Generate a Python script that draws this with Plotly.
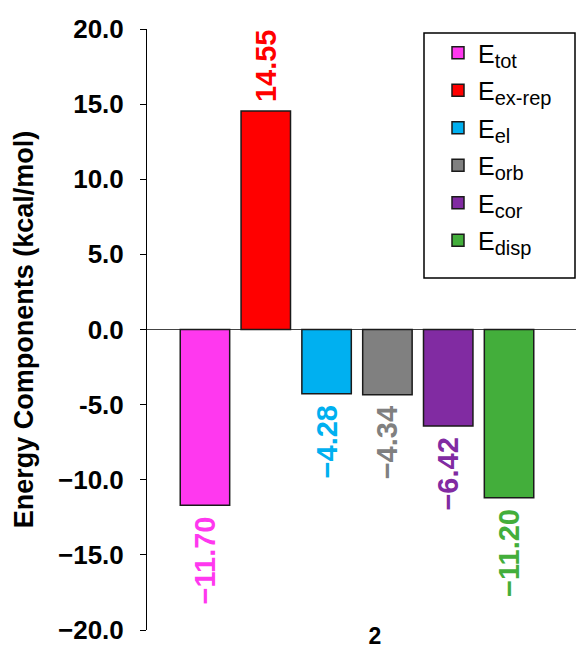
import plotly.graph_objects as go

category = ["2"]
subs = ["tot", "ex-rep", "el", "orb", "cor", "disp"]
values = [-11.70, 14.55, -4.28, -4.34, -6.42, -11.20]
colors = ["#FF38EF", "#FF0000", "#00B0F0", "#808080", "#812BA2", "#43AE3B"]

ytickvals = [20, 15, 10, 5, 0, -5, -10, -15, -20]
yticktext = ["20.0", "15.0", "10.0", "5.0", "0.0", "-5.0", "\u221210.0", "\u221215.0", "\u221220.0"]

FONT = "Liberation Sans, Arial, sans-serif"

# page body has an 8px margin; work in screen pixels and convert
OFF = 8
SW, SH = 584, 646
W, H = SW - OFF, SH - OFF
PL, PR, PT, PB = 147, 584, 29, 630   # plot area in screen pixels
L, T = PL - OFF, PT - OFF
R, B = SW - PR, SH - PB
pw = PR - PL
ph = PB - PT

def px_x(p):
    return (p - PL) / pw

def px_y(p):
    return (PB - p) / ph

fig = go.Figure()
for i, (s, v, c) in enumerate(zip(subs, values, colors)):
    num = f"{v:.2f}".replace("-", "\u2212")
    lab = num + "\u2009\u200a" if v < 0 else "\u2009" + num
    name = f"E<sub><span style='font-size:20px'>{s}</span></sub>"
    fig.add_trace(go.Bar(
        x=category, y=[v], name=name, legendgroup=f"g{i}",
        marker=dict(color=c, line=dict(color="#1a1a1a", width=1.5)),
        text=[lab], textposition="outside", textangle=-90,
        textfont=dict(family=FONT, size=29, color=c, weight="bold"),
        constraintext="none", cliponaxis=False,
    ))

fig.update_layout(
    width=W, height=H,
    margin=dict(l=L, r=R, t=T, b=B, pad=0, autoexpand=False),
    plot_bgcolor="white", paper_bgcolor="white",
    barmode="group", bargap=0.165, bargroupgap=0.187,
    font=dict(family=FONT, color="black"),
    showlegend=True,
    legend=dict(
        x=px_x(438), y=px_y(30), xanchor="left", yanchor="top",
        bgcolor="rgba(0,0,0,0)", borderwidth=0,
        font=dict(family=FONT, size=25, color="black"),
        tracegroupgap=2,
    ),
    shapes=[dict(type="rect", xref="paper", yref="paper",
                 x0=px_x(424), x1=px_x(575), y0=px_y(278), y1=px_y(33),
                 line=dict(color="black", width=1.5), fillcolor="white", layer="below")],
)

fig.update_xaxes(
    range=[-(357 - PL) / pw, (PR - 357) / pw],
    showgrid=False, showline=False, zeroline=False, ticks="",
    tickfont=dict(family=FONT, size=23, color="black", weight="bold"),
    ticklabelshift=18, ticklabelstandoff=-10, automargin=False,
)
fig.update_yaxes(
    range=[-20, 20], tickvals=ytickvals, ticktext=yticktext,
    showgrid=False, showline=True, linecolor="black", linewidth=1,
    ticks="outside", ticklen=6, tickcolor="black", tickwidth=1,
    zeroline=True, zerolinecolor="#444444", zerolinewidth=1,
    tickfont=dict(family=FONT, size=26, color="black", weight="bold"),
    ticklabelstandoff=11, automargin=False,
    title=dict(text="Energy Components (kcal/mol)", standoff=16,
               font=dict(family=FONT, size=27, color="black", weight="bold")),
)

fig.write_html("out.html")
